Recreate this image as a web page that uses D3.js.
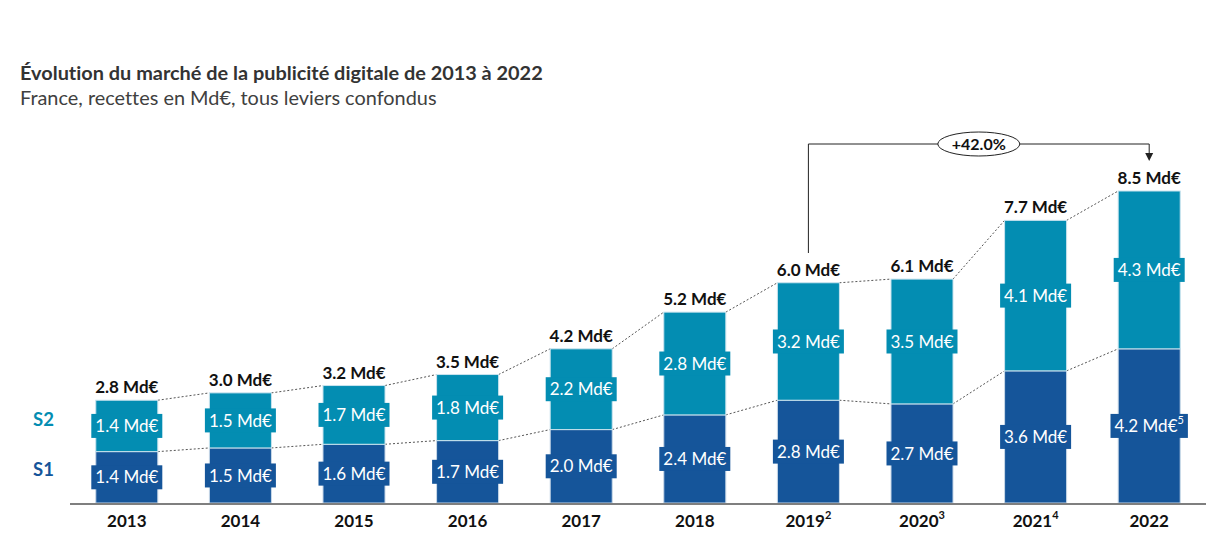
<!DOCTYPE html>
<html>
<head>
<meta charset="utf-8">
<script src="https://cdn.jsdelivr.net/npm/d3@7"></script>
<style>
  html, body { margin: 0; padding: 0; background: #fff; }
  svg { display: block; }
  text { font-family: Lato, "Open Sans", sans-serif; font-variant-ligatures: none; font-feature-settings: "liga" 0; }
</style>
</head>
<body>
<svg id="chart" width="1225" height="542"></svg>
<script>
const years = ["2013","2014","2015","2016","2017","2018","2019","2020","2021","2022"];
const yearSup = ["","","","","","","2","3","4",""];
const s1 = [1.4,1.5,1.6,1.7,2.0,2.4,2.8,2.7,3.6,4.2];
const s2 = [1.4,1.5,1.7,1.8,2.2,2.8,3.2,3.5,4.1,4.3];
const totals = [2.8,3.0,3.2,3.5,4.2,5.2,6.0,6.1,7.7,8.5];
const s1Sup = ["","","","","","","","","","5"];
const growthLabel = "+42.0%";
const growthFrom = "2019", growthTo = "2022";
const title = "Évolution du marché de la publicité digitale de 2013 à 2022";
const subtitle = "France, recettes en Md€, tous leviers confondus";

const C1 = "#15559a", C2 = "#038db2";

const svg = d3.select("#chart");
const x = d3.scaleBand().domain(years).range([70, 1206]).paddingInner(0.454).paddingOuter(0.227);
const y = d3.scaleLinear().domain([0, 8.5]).range([503, 191]);
const bw = x.bandwidth();
const fmt = v => d3.format(".1f")(v) + " Md€";

// Title
svg.append("text").attr("x", 20).attr("y", 80).attr("font-size", 19.9).attr("font-weight", 700)
  .attr("fill", "#333").text(title);
svg.append("text").attr("x", 20).attr("y", 105).attr("font-size", 19.9)
  .attr("fill", "#404040").text(subtitle);

const data = years.map((yr, i) => ({yr, i, s1: s1[i], s2: s2[i], tot: totals[i]}));

// dotted connectors
const conn = svg.append("g").attr("stroke", "#555").attr("stroke-width", 1).attr("stroke-dasharray", "2,2").attr("fill", "none");
for (let i = 0; i < data.length - 1; i++) {
  const a = data[i], b = data[i+1];
  conn.append("line").attr("x1", x(a.yr) + bw).attr("y1", y(a.tot)).attr("x2", x(b.yr)).attr("y2", y(b.tot));
  conn.append("line").attr("x1", x(a.yr) + bw).attr("y1", y(a.s1)).attr("x2", x(b.yr)).attr("y2", y(b.s1));
}

// bars
const bars = svg.append("g");
bars.selectAll("rect.s1").data(data).join("rect")
  .attr("x", d => x(d.yr)).attr("width", bw)
  .attr("y", d => y(d.s1)).attr("height", d => y(0) - y(d.s1))
  .attr("fill", C1).attr("stroke", "#c9d9e8").attr("stroke-width", 1);
bars.selectAll("rect.s2").data(data).join("rect")
  .attr("x", d => x(d.yr)).attr("width", bw)
  .attr("y", d => y(d.tot)).attr("height", d => y(d.s1) - y(d.tot))
  .attr("fill", C2).attr("stroke", "#c9e3ee").attr("stroke-width", 1);

// inner labels with boxes
function innerLabel(cx, cy, txt, sup, fill) {
  const g = svg.append("g");
  const rect = g.append("rect").attr("fill", fill);
  const t = g.append("text").attr("x", cx).attr("y", cy).attr("dy", "0.36em")
    .attr("text-anchor", "middle").attr("font-size", 17).attr("fill", "#fff").text(txt);
  if (sup) t.append("tspan").attr("font-size", 11).attr("dy", "-0.75em").text(sup);
  const w = t.node().getComputedTextLength();
  rect.attr("x", cx - w/2 - 4).attr("width", w + 8).attr("y", cy - 12).attr("height", 24);
}
data.forEach(d => {
  const cx = x(d.yr) + bw/2;
  innerLabel(cx, (y(d.tot) + y(d.s1))/2, fmt(d.s2), "", C2);
  innerLabel(cx, (y(d.s1) + y(0))/2, fmt(d.s1), s1Sup[d.i], C1);
});

// total labels
svg.append("g").selectAll("text").data(data).join("text")
  .attr("x", d => x(d.yr) + bw/2).attr("y", d => y(d.tot) - 7)
  .attr("text-anchor", "middle").attr("font-size", 17).attr("font-weight", 700).attr("fill", "#111")
  .text(d => fmt(d.tot));

// axis baseline
svg.append("line").attr("x1", 70).attr("x2", 1206).attr("y1", y(0) + 1).attr("y2", y(0) + 1)
  .attr("stroke", "#7f7f7f").attr("stroke-width", 2);

// year labels
const yl = svg.append("g").selectAll("text").data(data).join("text")
  .attr("x", d => x(d.yr) + bw/2).attr("y", 527)
  .attr("text-anchor", "middle").attr("font-size", 17).attr("font-weight", 700).attr("fill", "#111");
yl.append("tspan").text(d => d.yr);
yl.filter(d => yearSup[d.i]).append("tspan").attr("font-size", 11).attr("dy", "-0.7em").text(d => yearSup[d.i]);

// legend
svg.append("text").attr("x", 33).attr("y", 426).attr("font-size", 18.5).attr("font-weight", 700).attr("fill", C2).text("S2");
svg.append("text").attr("x", 33).attr("y", 476).attr("font-size", 18.5).attr("font-weight", 700).attr("fill", C1).text("S1");

// growth annotation
const fx = x(growthFrom) + bw/2, tx = x(growthTo) + bw/2;
const ay = 144;
const ann = svg.append("g").attr("stroke", "#222").attr("stroke-width", 1).attr("fill", "none");
ann.append("path").attr("d", `M${fx},253 V${ay} H${tx} V155`);
svg.append("path").attr("d", `M${tx-4},153 L${tx+4},153 L${tx},161 Z`).attr("fill", "#222");
const ex = (fx + tx) / 2;
svg.append("ellipse").attr("cx", ex).attr("cy", ay).attr("rx", 41).attr("ry", 12)
  .attr("fill", "#fff").attr("stroke", "#222").attr("stroke-width", 1);
svg.append("text").attr("x", ex).attr("y", ay).attr("dy", "0.36em").attr("text-anchor", "middle")
  .attr("font-size", 16).attr("font-weight", 700).attr("fill", "#111").text(growthLabel);
</script>
</body>
</html>
